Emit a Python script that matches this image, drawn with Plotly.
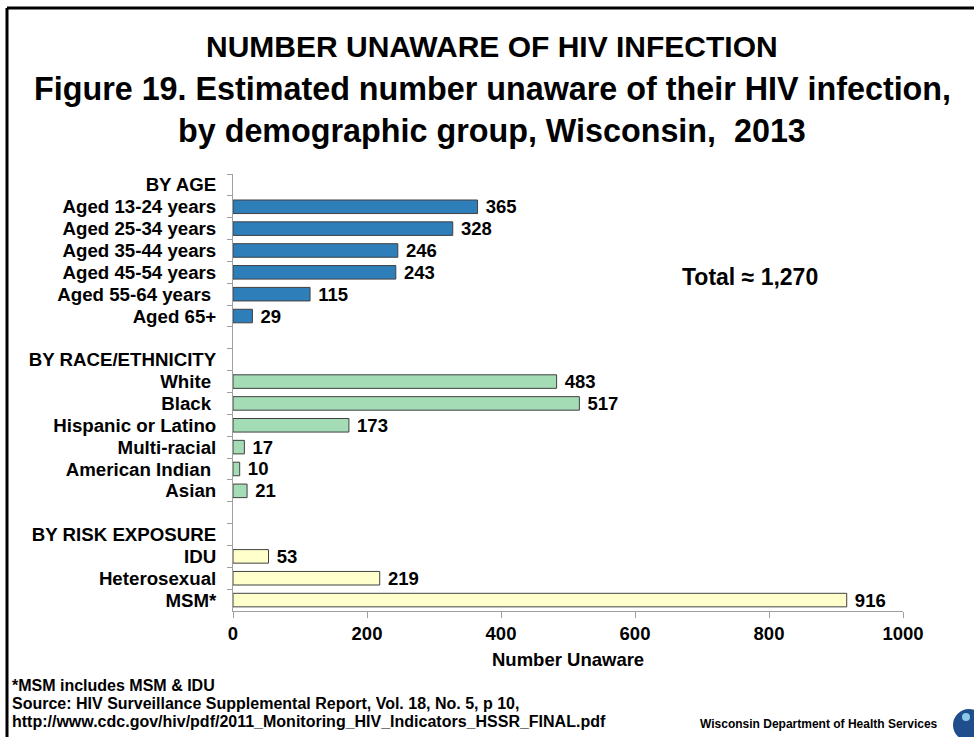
import plotly.graph_objects as go

# ---- data ----
age_labels = ["Aged 13-24 years", "Aged 25-34 years", "Aged 35-44 years",
              "Aged 45-54 years", "Aged 55-64 years\u00a0", "Aged 65+"]
age_values = [365, 328, 246, 243, 115, 29]

race_labels = ["White\u00a0", "Black\u00a0", "Hispanic or Latino", "Multi-racial",
               "American Indian\u00a0", "Asian"]
race_values = [483, 517, 173, 17, 10, 21]

risk_labels = ["IDU", "Heterosexual", "MSM*"]
risk_values = [53, 219, 916]

headings = ["BY AGE", "BY RACE/ETHNICITY", "BY RISK EXPOSURE"]
blank1, blank2 = "\u00a0", "\u00a0\u00a0"

category_order = ([headings[0]] + age_labels + [blank1, headings[1]] + race_labels
                  + [blank2, headings[2]] + risk_labels)

x_ticks = [0, 200, 400, 600, 800, 1000]

# ---- layout geometry (pixels) ----
W, H = 974, 737
L, R, T, B = 233, 903, 174, 611
FONT = "Liberation Sans, Arial, sans-serif"


def px(xp):
    return (xp - L) / (R - L)


def py(yp):
    return (B - yp) / (B - T)


fig = go.Figure()
for labels, values, color in [(age_labels, age_values, "#2E7EBA"),
                              (race_labels, race_values, "#A4DCB6"),
                              (risk_labels, risk_values, "#FFFFCC")]:
    fig.add_trace(go.Bar(
        y=labels, x=values, orientation="h",
        marker=dict(color=color, line=dict(color="#404040", width=1)),
        text=values, texttemplate="\u00a0%{x}", textposition="outside",
        textfont=dict(family=FONT, size=18.5, color="black", weight="bold"),
        cliponaxis=False, constraintext="none", showlegend=False,
    ))

fig.update_layout(
    width=W, height=H,
    margin=dict(l=L, r=W - R, t=T, b=H - B, pad=0),
    paper_bgcolor="white", plot_bgcolor="white",
    bargap=0.38,
    font=dict(family=FONT, color="black"),
    xaxis=dict(range=[0, 1000], tickvals=x_ticks, showgrid=False, zeroline=False,
               showline=True, linecolor="#A0A0A0", linewidth=1,
               ticks="outside", ticklen=6, tickcolor="#A0A0A0",
               tickfont=dict(family=FONT, size=18.5, weight="bold", color="black")),
    yaxis=dict(type="category", categoryorder="array", categoryarray=category_order,
               range=[len(category_order) - 0.5, -0.5],
               tickmode="linear", tick0=0, dtick=1,
               showgrid=False, zeroline=False,
               showline=True, linecolor="#A0A0A0", linewidth=1,
               ticks="outside", ticklen=5, tickcolor="#A0A0A0", tickson="boundaries",
               ticklabelstandoff=12,
               tickfont=dict(family=FONT, size=18.7, weight="bold", color="black")),
)

ann = []
titles = [("NUMBER UNAWARE OF HIV INFECTION", 47, 30),
          ("Figure 19. Estimated number unaware of their HIV infection,", 89, 32.3),
          ("by demographic group, Wisconsin,\u00a0 2013", 131, 32.3)]
for txt, yc, fs in titles:
    ann.append(dict(text="<b>" + txt + "</b>", x=px(492), y=py(yc), xref="paper", yref="paper",
                    xanchor="center", yanchor="middle", showarrow=False,
                    font=dict(family=FONT, size=fs, color="black")))

ann.append(dict(text="<b>Number Unaware</b>", x=px(568), y=py(659), xref="paper", yref="paper",
                xanchor="center", yanchor="middle", showarrow=False,
                font=dict(family=FONT, size=18.5, color="black")))
ann.append(dict(text="<b>Total \u2248 1,270</b>", x=px(750), y=py(277), xref="paper", yref="paper",
                xanchor="center", yanchor="middle", showarrow=False,
                font=dict(family=FONT, size=23, color="black")))

foot = [("*MSM includes MSM & IDU", 685),
        ("Source: HIV Surveillance Supplemental Report, Vol. 18, No. 5, p 10,", 703),
        ("http://www.cdc.gov/hiv/pdf/2011_Monitoring_HIV_Indicators_HSSR_FINAL.pdf", 721)]
for txt, yc in foot:
    ann.append(dict(text="<b>" + txt + "</b>", x=px(10), y=py(yc), xref="paper", yref="paper",
                    xanchor="left", yanchor="middle", showarrow=False,
                    font=dict(family=FONT, size=16, color="black")))
ann.append(dict(text="<b>Wisconsin Department of Health Services</b>", x=px(940), y=py(724),
                xref="paper", yref="paper", xanchor="right", yanchor="middle", showarrow=False,
                font=dict(family=FONT, size=12, color="black")))
fig.update_layout(annotations=ann)

shapes = [
    dict(type="line", xref="paper", yref="paper", x0=px(7), x1=px(974), y0=py(8), y1=py(8),
         line=dict(color="black", width=3)),
    dict(type="line", xref="paper", yref="paper", x0=px(7), x1=px(7), y0=py(8), y1=py(737),
         line=dict(color="black", width=3)),
    dict(type="circle", xref="paper", yref="paper", x0=px(953), x1=px(985), y0=py(709), y1=py(741),
         fillcolor="#1F4E8C", line=dict(width=0)),
    dict(type="circle", xref="paper", yref="paper", x0=px(962), x1=px(970), y0=py(713), y1=py(721),
         fillcolor="#8CC8E8", line=dict(width=0)),
]
fig.update_layout(shapes=shapes)

fig.write_html("out.html")
